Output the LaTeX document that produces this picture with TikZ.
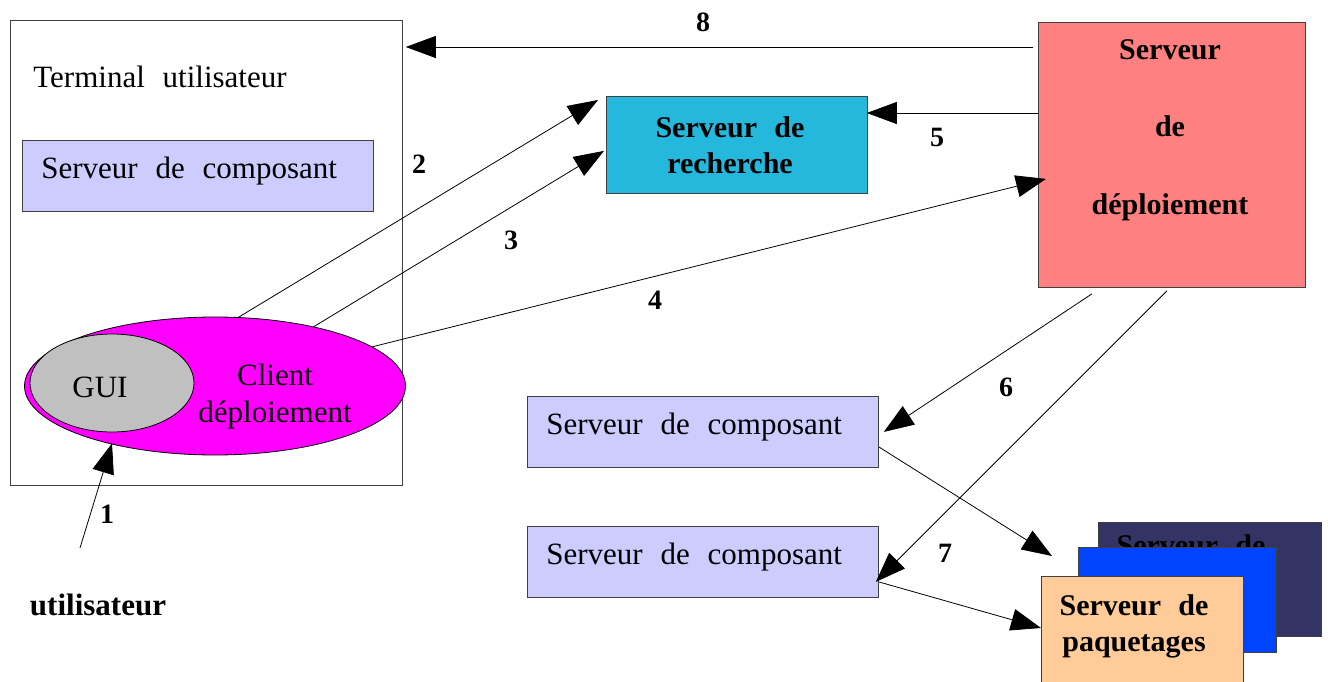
\documentclass[tikz,border=0pt]{standalone}
\usepackage{fontspec}
\setmainfont{Liberation Serif}[WordSpace=2.3]
\usetikzlibrary{arrows.meta,shapes.geometric}
\definecolor{lavande}{HTML}{CCCCFF}
\definecolor{cyan2}{HTML}{23B8DC}
\definecolor{rose}{HTML}{FF8080}
\definecolor{marine}{HTML}{333366}
\definecolor{bleu}{HTML}{0044FF}
\definecolor{peche}{HTML}{FFCC99}
\definecolor{gris}{HTML}{C0C0C0}
\definecolor{fuchsia}{HTML}{FF00FF}
\tikzset{
  cadre/.style = {rectangle, draw=black!75, line width=0.8pt, inner sep=0pt,
    anchor=north west},
  srv_c/.style = {cadre, fill=lavande, minimum width=351pt, minimum height=71pt,
    text width=313pt, inner xsep=19pt, align=flush left, text depth=16pt,
    font=\fontsize{31}{36}\selectfont},% serveur de composant
  txt/.style = {inner sep=0pt, align=center, font=\fontsize{31}{37}\selectfont},
  gras/.style = {inner sep=0pt, align=center,
    font=\fontsize{30}{36}\selectfont\bfseries},% texte gras
  num/.style = {inner sep=0pt, font=\fontsize{28}{30}\selectfont\bfseries}% numero de fleche
}
\begin{document}
\begin{tikzpicture}[x=1pt,y=-1pt,->,>={Triangle[length=30pt,width=22pt]},
  line width=0.8pt]
  \clip (0,0) rectangle (1328,682);
  % terminal utilisateur
  \node [cadre, minimum width=392pt, minimum height=465pt] (term) at (10,20) {};
  \node [txt, anchor=west] (titre) at (33,77) {Terminal utilisateur};
  \node [srv_c] (comp0) at (22,140) {Serveur de composant};
  \node [ellipse, draw=black, fill=fuchsia, inner sep=0pt,
    minimum width=381pt, minimum height=138pt] (clnt) at (215,386) {};
  \node [ellipse, draw=black, fill=gris, inner sep=0pt,
    minimum width=164pt, minimum height=98pt] (gui) at (112,383) {};
  \node [txt] (guit) at (100,387) {GUI};
  \node [txt] (clntt) at (275,397) {Client\\d\'eploiement};
  \node [gras, font=\fontsize{31}{36}\selectfont\bfseries] (usr) at (98,605) {utilisateur};
  \coordinate (u) at (80,548);
  % serveurs
  \node [cadre, fill=cyan2, minimum width=261pt, minimum height=97pt] (rech) at (606,96) {};
  \node [gras] (recht) at (730,145) {Serveur de\\recherche};
  \node [cadre, fill=rose, minimum width=267pt, minimum height=265pt] (depl) at (1038,22) {};
  \node [gras, font=\fontsize{30}{77.5}\selectfont\bfseries] (deplt) at (1170,130)
    {Serveur\\de\\d\'eploiement};
  \node [srv_c] (comp1) at (527,396) {Serveur de composant};
  \node [srv_c] (comp2) at (527,526) {Serveur de composant};
  % serveurs de paquetages
  \node [cadre, fill=marine, minimum width=223pt, minimum height=114pt] (paq3) at (1098,522) {};
  \node [gras] (paq3t) at (1191,566) {Serveur de\\paquetages};
  \node [cadre, fill=bleu, minimum width=198pt, minimum height=105pt] (paq2) at (1078,547) {};
  \node [cadre, fill=peche, minimum width=202pt, minimum height=114pt] (paq1) at (1041,576) {};
  \node [gras] (paq1t) at (1134,626) {Serveur de\\paquetages};
  % fleches
  \draw (u) -- ([shift={(0,11)}]gui.south);
  \draw (clnt.71) -- ([shift={(-8,4)}]rech.north west);
  \draw (clnt.31) -- ([shift={(-2,6)}]rech.west);
  \draw (clnt.14) -- ([shift={(8,24)}]depl.west);
  \draw ([shift={(0,91)}]depl.north west) -- ([shift={(-1,17)}]rech.north east);
  \draw ([shift={(54,6)}]depl.south west) -- ([shift={(5,0)}]comp1.east);
  \draw ([shift={(-5,3)}]depl.south) -- ([shift={(-3,20)}]comp2.east);
  \draw ([shift={(0,15)}]comp1.east) -- ([shift={(11,-20)}]paq1.north west);
  \draw ([shift={(0,20)}]comp2.east) -- ([shift={(0,52)}]paq1.north west);
  \draw ([shift={(-5,25)}]depl.north west) -- ([shift={(3,27)}]term.north east);
  % numeros
  \node [num] (n1) at (107,514) {1};
  \node [num] (n2) at (419,164) {2};
  \node [num] (n3) at (511,240) {3};
  \node [num] (n4) at (655,300) {4};
  \node [num] (n5) at (937,137) {5};
  \node [num] (n6) at (1006,387) {6};
  \node [num] (n7) at (945,553) {7};
  \node [num] (n8) at (703,22) {8};
\end{tikzpicture}
\end{document}
